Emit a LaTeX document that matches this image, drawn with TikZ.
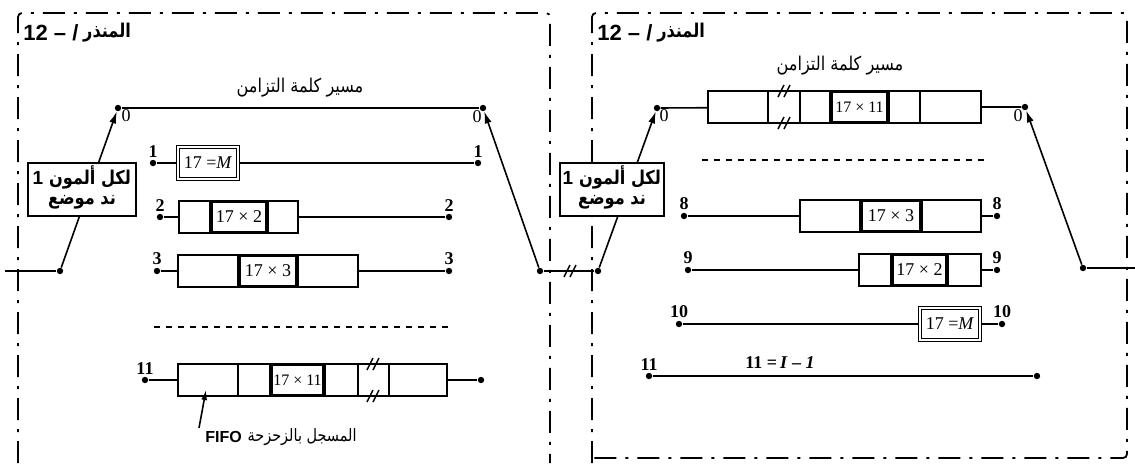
\documentclass[tikz,border=0pt]{standalone}
\usepackage{fontspec}
\setmainfont{Liberation Serif}
\newfontfamily\headfont{Liberation Sans}
\newfontfamily\arabicfont[Script=Arabic, FakeStretch=0.85]{DejaVu Sans}
\TeXXeTstate=1
\usetikzlibrary{arrows.meta,positioning,calc}

\newcommand{\ar}[1]{{\arabicfont\beginR #1\endR}}

\begin{document}
\begin{tikzpicture}[x=0.5pt, y=-0.5pt,
  panel/.style={line width=0.9pt, dash pattern=on 11pt off 4.5pt on 1.5pt off 4.5pt},
  wire/.style={line width=0.8pt},
  arm/.style={wire, -{Latex[length=6pt,width=3.5pt]}},
  dot/.style={circle, fill, inner sep=0pt, minimum size=3.2pt},
  num/.style={font=\bfseries\fontsize{9}{10}\selectfont, inner sep=1pt},
  reg/.style={draw, line width=0.8pt, fill=white, inner sep=0pt, minimum height=16pt},
  slot/.style={draw, line width=1.6pt, fill=white, inner sep=0pt, minimum width=28pt, minimum height=15.2pt, font=\fontsize{9}{10}\selectfont},
  mbox/.style={reg, double, double distance=0.9pt, line width=0.6pt, minimum width=30pt, font=\fontsize{9}{10}\selectfont},
  tagbox/.style={draw, line width=0.8pt, fill=white, inner sep=0pt, minimum height=26.5pt},
  tagline/.style={font=\bfseries\fontsize{9.5}{11}\selectfont, inner sep=0pt},
  arlabel/.style={font=\fontsize{9.5}{11}\selectfont, inner sep=0pt},
  ttl/.style={font=\headfont\bfseries\fontsize{11}{12}\selectfont, anchor=west, inner sep=0pt},
  brk/.pic={\draw[line width=0.7pt] (-6,6) -- (0,-6) (0,6) -- (6,-6);}]
\useasboundingbox (0,0) rectangle (1135,463);

% panel frames
\draw[panel, rounded corners=2pt] (18,463) -- (18,13) -- (550,13) -- (550,463);
\draw[panel, rounded corners=2pt] (592,463) -- (592,13) -- (1127,13) -- (1127,458) -- (592,458);
\node[ttl] (ttl1) at (23,33) {12 – /};
\node[arlabel, font=\bfseries\fontsize{9.5}{11}\selectfont, right=2pt of ttl1] (ttl1a) {\ar{المنذر}};
\node[ttl] (ttl2) at (597,33) {12 – /};
\node[arlabel, font=\bfseries\fontsize{9.5}{11}\selectfont, right=2pt of ttl2] (ttl2a) {\ar{المنذر}};
\node[arlabel] (sync1) at (300,88) {\ar{مسير كلمة التزامن}};
\node[arlabel] (sync2) at (840,66) {\ar{مسير كلمة التزامن}};

% ---- left panel ----
\node[dot] (ca) at (118,108) {};
\node[dot] (cb) at (483,108) {};
\node[font=\fontsize{9}{10}\selectfont, inner sep=0pt] at (126,116) {0};
\node[font=\fontsize{9}{10}\selectfont, inner sep=0pt] at (477,117) {0};
\draw[wire] (ca) -- (cb);

\node[dot, label={[num]above:1}] (l1) at (153,163) {};
\node[dot, label={[num]above:1}] (q1) at (478,163) {};
\node[mbox] (r1) at (208,163) {17 =\textit{M}};
\draw[wire] (l1) -- (r1) -- (q1);

\node[dot, label={[num]above:2}] (l2) at (160,217) {};
\node[dot, label={[num]above:2}] (q2) at (449,217) {};
\node[reg, minimum width=59.5pt] (r2) at (238.5,217) {};
\node[slot] (s2) at (239,217) {17 × 2};
\draw[wire] (l2) -- (r2) -- (q2);

\node[dot, label={[num]above:3}] (l3) at (157,271) {};
\node[dot, label={[num]above:3}] (q3) at (449,271) {};
\node[reg, minimum width=90pt] (r3) at (268,271) {};
\node[slot, minimum width=29pt] (s3) at (268,271) {17 × 3};
\draw[wire] (l3) -- (r3) -- (q3);

\draw[wire, dashed] (154,327) -- (450,327);

\node[dot, label={[num]above:11}] (l11) at (145,380) {};
\node[dot] (q11) at (481,380) {};
\node[reg, minimum width=134.5pt] (r11) at (312.5,380) {};
\draw[wire] (l11) -- (r11) -- (q11);
\foreach \x in {238,358,389} \draw[wire] (\x,364) -- (\x,396);
\node[slot, minimum width=26.5pt, font=\fontsize{8}{9}\selectfont] (s11) at (297.5,380) {17 × 11};
\pic at (373,364) {brk};
\pic at (373,396) {brk};

\node[font=\headfont\bfseries\fontsize{8}{10}\selectfont, inner sep=0pt, anchor=west] (fifo) at (205,437) {FIFO};
\node[arlabel, font=\fontsize{8.5}{10}\selectfont, right=2.5pt of fifo] (fifoa) {\ar{المسجل بالزحزحة}};
\coordinate (fifotip) at (206,390);
\draw[wire, -{Latex[length=5pt,width=3pt]}] ($(fifo.north west)+(-6,-3)$) -- (fifotip);

% switch of left panel
\node[dot] (ia) at (60,271) {};
\coordinate (inl) at (5,271);
\draw[wire] (inl) -- (ia);
\draw[arm] (ia) -- (ca);
\node[tagbox, minimum width=54pt] (tag1) at (82,189.5) {};
\node[tagline] (tag1a) at ([xshift=4pt,yshift=6pt]tag1.center) {\ar{لكل ألمون}};
\node[tagline, font=\headfont\bfseries\fontsize{9.5}{11}\selectfont, left=2.5pt of tag1a] (tag1n) {1};
\node[tagline] (tag1b) at ([yshift=-6.5pt]tag1.center) {\ar{ند موضع}};
\node[dot] (oa) at (540,271) {};
\draw[arm] (oa) -- (cb);

% link between the panels
\node[dot] (ib) at (598,271) {};
\draw[wire] (oa) -- (ib);
\pic at (570,271) {brk};

% ---- right panel ----
\node[dot] (cc) at (657,108) {};
\node[dot] (cd) at (1025,107) {};
\node[font=\fontsize{9}{10}\selectfont, inner sep=0pt] at (664,116) {0};
\node[font=\fontsize{9}{10}\selectfont, inner sep=0pt] at (1018,116) {0};
\node[reg, minimum width=136.5pt] (rt) at (844.5,107) {};
\draw[wire] (cc) -- (rt) -- (cd);
\foreach \x in {768,800,920} \draw[wire] (\x,91) -- (\x,123);
\node[slot, minimum width=28.5pt, font=\fontsize{8}{9}\selectfont] (st) at (859.5,107) {17 × 11};
\pic at (784,91) {brk};
\pic at (784,123) {brk};

\draw[wire, dashed] (702,160) -- (984,160);

\node[dot, label={[num]above:8}] (l8) at (684,216) {};
\node[dot, label={[num]above:8}] (q8) at (997,216) {};
\node[reg, minimum width=90.5pt] (r8) at (890.5,216) {};
\node[slot, minimum width=30pt] (s8) at (891,216) {17 × 3};
\draw[wire] (l8) -- (r8) -- (q8);

\node[dot, label={[num]above:9}] (l9) at (688,270) {};
\node[dot, label={[num]above:9}] (q9) at (997,270) {};
\node[reg, minimum width=61pt] (r9) at (920,270) {};
\node[slot, minimum width=27.5pt] (s9) at (919.5,270) {17 × 2};
\draw[wire] (l9) -- (r9) -- (q9);

\node[dot, label={[num]above:10}] (l10) at (679,324) {};
\node[dot, label={[num]above:10}] (q10) at (1002,324) {};
\node[mbox] (r10) at (950,324) {17 =\textit{M}};
\draw[wire] (l10) -- (r10) -- (q10);

\node[dot, label={[num]above:11}] (lr11) at (649,376) {};
\node[dot] (qr11) at (1037,376) {};
\draw[wire] (lr11) -- (qr11);
\node[num, anchor=south] (cnt) at (780,371) {11 =\,\textit{I} – \textit{1}};

% switch of right panel
\draw[arm] (ib) -- (cc);
\node[tagbox, minimum width=52pt] (tag2) at (612,189.5) {};
\node[tagline] (tag2a) at ([xshift=4pt,yshift=6pt]tag2.center) {\ar{لكل ألمون}};
\node[tagline, font=\headfont\bfseries\fontsize{9.5}{11}\selectfont, left=2.5pt of tag2a] (tag2n) {1};
\node[tagline] (tag2b) at ([yshift=-6.5pt]tag2.center) {\ar{ند موضع}};
\node[dot] (ob) at (1083,268) {};
\coordinate (outr) at (1135,268);
\draw[arm] (ob) -- (cd);
\draw[wire] (ob) -- (outr);
\end{tikzpicture}
\end{document}
